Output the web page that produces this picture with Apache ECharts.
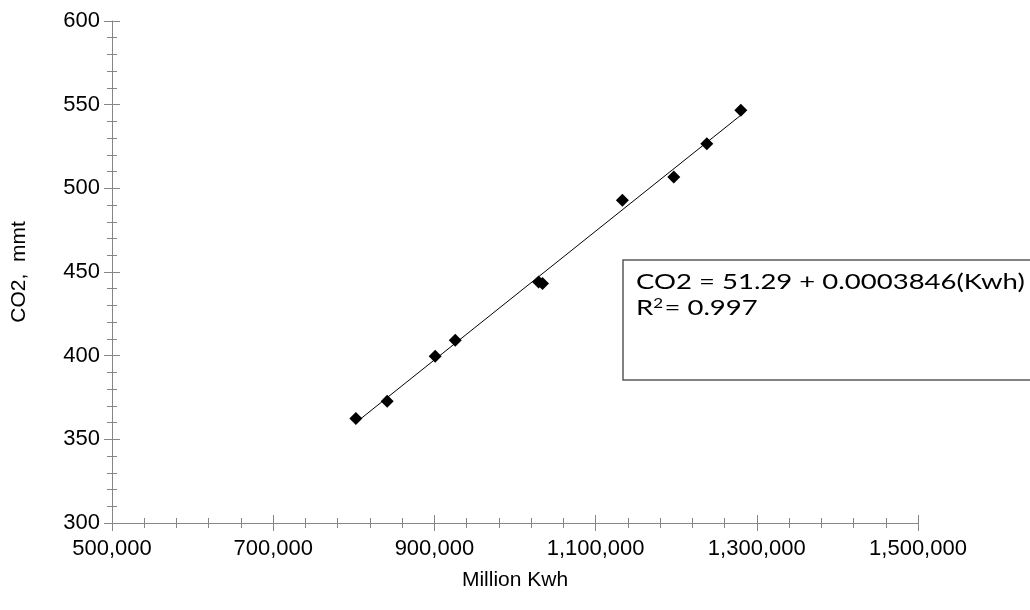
<!DOCTYPE html>
<html>
<head>
<meta charset="utf-8">
<script src="https://cdn.jsdelivr.net/npm/echarts@6/dist/echarts.min.js"></script>
<style>
html,body{margin:0;padding:0;background:#fff;}
#chart{width:1030px;height:610px;}
</style>
</head>
<body>
<div id="chart"></div>
<script>
// Data
const kwh = [802600, 841400, 901000, 925900, 1029200, 1034100, 1133200, 1197000, 1238000, 1280200];
const co2 = [362.4, 372.7, 399.6, 409.2, 444.0, 443.2, 492.9, 506.8, 526.7, 546.6];
const trendX = [802600, 1280200];
const trendY = [360.0, 543.7];
const xTicks = [500000, 700000, 900000, 1100000, 1300000, 1500000];
const yTicks = [300, 350, 400, 450, 500, 550, 600];
const eqLine1 = 'CO2 = 51.29 + 0.0003846(Kwh)';
const eqLine2 = '{n|R}{s|2}{n|= 0.997}';

const points = kwh.map((v, i) => [v, co2[i]]);
const trend = trendX.map((v, i) => [v, trendY[i]]);

const axisGray = '#868686';
const font = 'Liberation Sans, Arial, sans-serif';

function xAxisDef(inside, labels) {
  return {
    type: 'value', min: xTicks[0], max: xTicks[xTicks.length - 1], interval: 200000,
    position: 'bottom',
    name: labels ? 'Million Kwh' : '', nameLocation: 'middle', nameGap: 47,
    nameTextStyle: { fontFamily: font, fontSize: 21, color: '#000' },
    axisLine: { show: labels, lineStyle: { color: axisGray, width: 1 } },
    axisTick: { show: true, inside: inside, length: 8, lineStyle: { color: axisGray } },
    minorTick: { show: true, splitNumber: 5, length: 5, lineStyle: { color: axisGray } },
    axisLabel: { show: labels, margin: 15, fontFamily: font, fontSize: 22, color: '#000',
      formatter: v => v.toLocaleString('en-US') },
    splitLine: { show: false }
  };
}
function yAxisDef(inside, labels) {
  return {
    type: 'value', min: yTicks[0], max: yTicks[yTicks.length - 1], interval: 50,
    position: 'left',
    name: labels ? 'CO2,  mmt' : '', nameLocation: 'middle', nameGap: 82,
    nameTextStyle: { fontFamily: font, fontSize: 21, color: '#000' },
    axisLine: { show: labels, lineStyle: { color: axisGray, width: 1 } },
    axisTick: { show: true, inside: inside, length: 8, lineStyle: { color: axisGray } },
    minorTick: { show: true, splitNumber: 5, length: 5, lineStyle: { color: axisGray } },
    axisLabel: { show: labels, margin: 12, fontFamily: font, fontSize: 22, color: '#000' },
    splitLine: { show: false }
  };
}

const chart = echarts.init(document.getElementById('chart'), null, { renderer: 'canvas' });
chart.setOption({
  backgroundColor: '#fff',
  animation: false,
  grid: { left: 112, right: 112, top: 21, bottom: 87, containLabel: false },
  xAxis: [xAxisDef(false, true), xAxisDef(true, false)],
  yAxis: [yAxisDef(false, true), yAxisDef(true, false)],
  series: [
    {
      type: 'line', data: trend, xAxisIndex: 0, yAxisIndex: 0,
      showSymbol: false, symbol: 'none',
      lineStyle: { color: '#000', width: 1 }, z: 2
    },
    {
      type: 'scatter', data: points, xAxisIndex: 0, yAxisIndex: 0,
      symbol: 'diamond', symbolSize: 13,
      itemStyle: { color: '#000', opacity: 1 }, z: 3
    }
  ],
  graphic: [
    {
      type: 'rect', x: 623, y: 260, z: 10,
      shape: { width: 420, height: 120 },
      style: { fill: '#fff', stroke: '#595959', lineWidth: 1.5 }
    },
    {
      type: 'text', x: 636, y: 272, z: 11, scaleX: 1.31,
      style: { text: eqLine1, font: '21px Lato', fill: '#000', verticalAlign: 'top' }
    },
    {
      type: 'text', x: 636, y: 297, z: 11, scaleX: 1.31,
      style: {
        text: eqLine2, verticalAlign: 'top',
        rich: {
          n: { fontFamily: 'Lato', fontSize: 21, fill: '#000' },
          s: { fontFamily: 'Lato', fontSize: 13, fill: '#000', verticalAlign: 'top', padding: [0, 1, 9, 0] }
        }
      }
    }
  ]
});
</script>
</body>
</html>
